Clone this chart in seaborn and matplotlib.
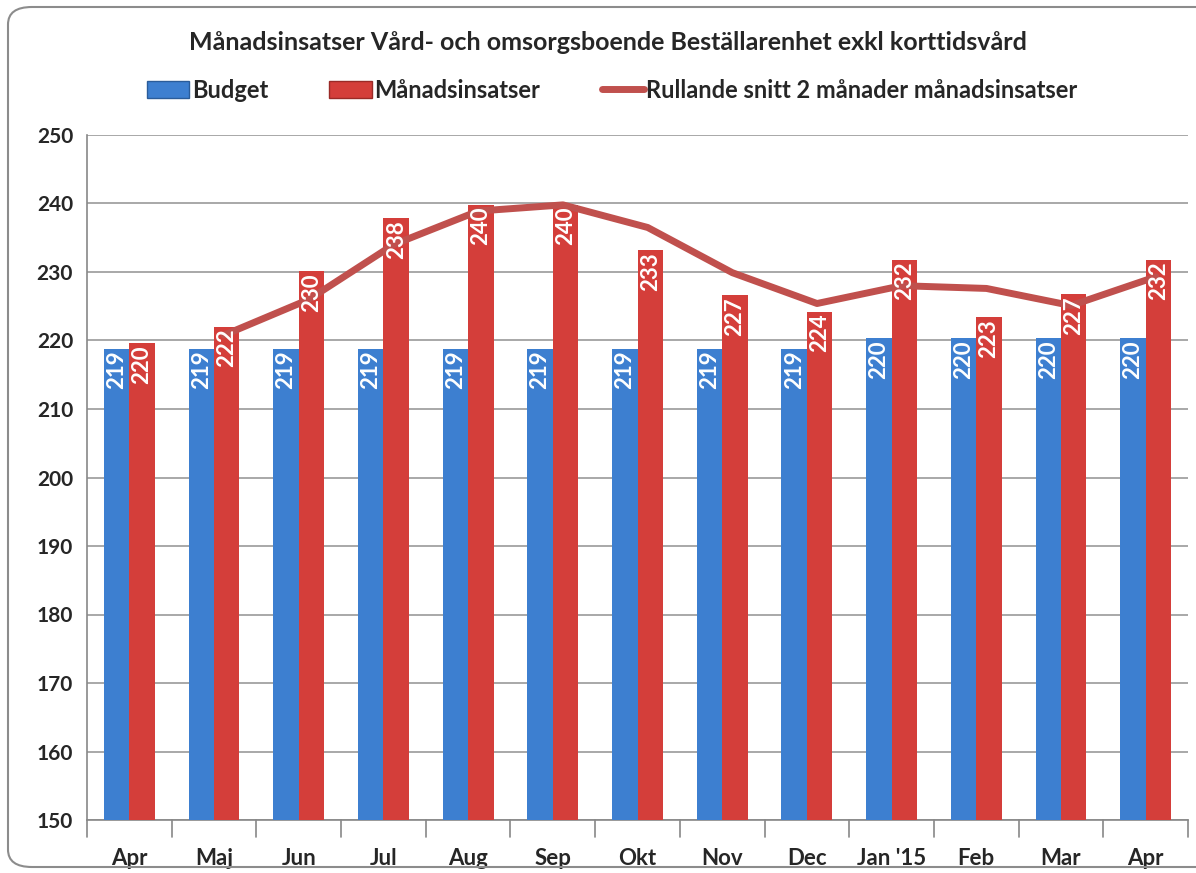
import matplotlib
matplotlib.use('Agg')

import numpy as np
import pandas as pd
import seaborn as sns
import matplotlib.pyplot as plt
from matplotlib.patches import Patch, FancyBboxPatch
from matplotlib.lines import Line2D

# data
months = ['Apr', 'Maj', 'Jun', 'Jul', 'Aug', 'Sep', 'Okt', 'Nov', 'Dec',
          "Jan '15", 'Feb', 'Mar', 'Apr ']
budget = [218.8, 218.8, 218.8, 218.8, 218.8, 218.8, 218.8, 218.8, 218.8,
          220.3, 220.3, 220.3, 220.3]
insatser = [219.6, 222.0, 230.1, 237.9, 239.8, 239.8, 233.2, 226.6, 224.2,
            231.8, 223.4, 226.8, 231.8]
rullande = [np.nan, 220.8, 226.0, 234.0, 238.9, 239.8, 236.5, 229.9, 225.4,
            228.0, 227.6, 225.1, 229.3]

BLUE = '#3d7fd0'
RED = '#d43e3a'
LINE = '#c0504d'

sns.set_style('white')
plt.rcParams['font.family'] = ['Lato', 'DejaVu Sans']
plt.rcParams['font.weight'] = 'bold'

df = pd.DataFrame({
    'month': months * 2,
    'value': budget + insatser,
    'serie': ['Budget'] * len(months) + ['Månadsinsatser'] * len(months),
})

fig = plt.figure(figsize=(11.96, 8.73), dpi=100)
ax = fig.add_axes([87 / 1196, 1 - 820 / 873, 1101 / 1196, 685 / 873])

sns.barplot(data=df, x='month', y='value', hue='serie', order=months,
            palette={'Budget': BLUE, 'Månadsinsatser': RED}, saturation=1,
            width=0.6, gap=0, edgecolor='none', ax=ax, legend=False, zorder=3)

x = np.arange(len(months))
sns.lineplot(x=x + 0.12, y=rullande, color=LINE, lw=5, ax=ax, zorder=4,
             solid_capstyle='round')

# value labels inside bar tops
for bars in ax.containers:
    for b in bars:
        h = b.get_height()
        ax.text(b.get_x() + b.get_width() / 2, h - 0.3, f'{h:.0f}',
                rotation=90, ha='center', va='top', color='white',
                fontsize=16, fontweight='bold', zorder=5)

ax.set_ylim(150, 250)
ax.set_xlim(-0.5, len(months) - 0.5)
ax.set_yticks(range(150, 251, 10))
ax.set_xlabel('')
ax.set_ylabel('')
ax.yaxis.grid(True, color='#9a9a9a', lw=1.2, zorder=0)
ax.tick_params(axis='y', labelsize=15, length=6, color='#888888', pad=4)
ax.tick_params(axis='x', labelsize=16, length=0, pad=20)
ax.set_xticks(x)
ax.set_xticklabels(['Apr', 'Maj', 'Jun', 'Jul', 'Aug', 'Sep', 'Okt', 'Nov',
                    'Dec', "Jan '15", 'Feb', 'Mar', 'Apr'])
# category separators below the axis
for xb in np.arange(-0.5, len(months), 1.0):
    ax.plot([xb, xb], [150, 147.5], color='#888888', lw=1.2, clip_on=False)
for s in ['top', 'right']:
    ax.spines[s].set_visible(False)
for s in ['left', 'bottom']:
    ax.spines[s].set_color('#888888')
    ax.spines[s].set_linewidth(1.2)

fig.text(0.508, 1 - 42 / 873, 'Månadsinsatser Vård- och omsorgsboende Beställarenhet exkl korttidsvård',
         ha='center', va='center', fontsize=18, fontweight='bold')

handles = [Patch(facecolor=BLUE, edgecolor='#2a5c9a', label='Budget'),
           Patch(facecolor=RED, edgecolor='#9a2a27', label='Månadsinsatser'),
           Line2D([0], [0], color=LINE, lw=5, label='Rullande snitt 2 månader månadsinsatser')]
fig.legend(handles=handles, loc='center', bbox_to_anchor=(0.512, 1 - 90 / 873),
           ncol=3, frameon=False, fontsize=17, handlelength=1.8,
           handletextpad=0.1, columnspacing=2.6)

border = FancyBboxPatch((8 / 1196, 6 / 873), 1250 / 1196, 860 / 873,
                        boxstyle='round,pad=0,rounding_size=0.02',
                        transform=fig.transFigure, fill=False,
                        edgecolor='#8c8c8c', lw=1.5, clip_on=False)
fig.patches.append(border)

fig.savefig('out.png', dpi=100)
